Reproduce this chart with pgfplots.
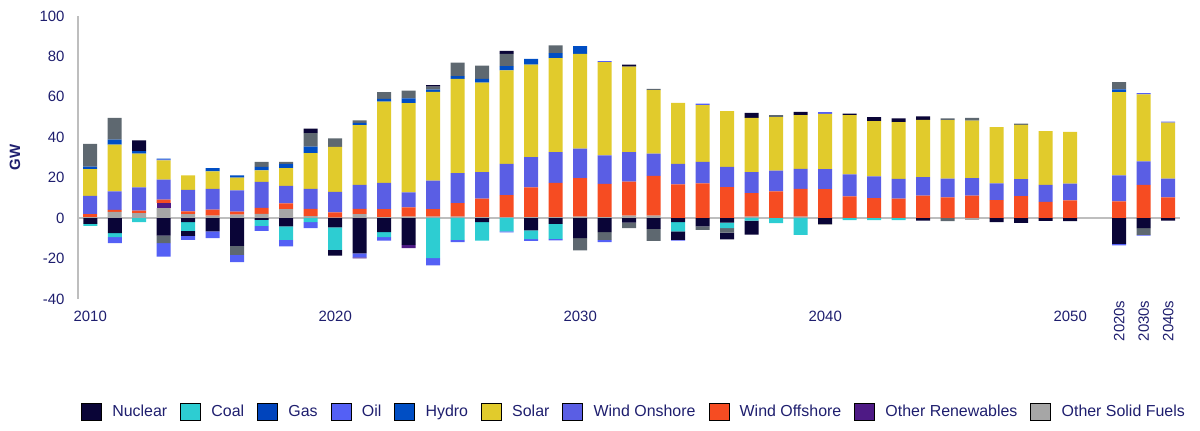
\documentclass[border=0pt]{standalone}
\usepackage{fontspec}
\setmainfont{Liberation Sans}
\usepackage{graphicx}
\usepackage{pgfplots}
\usepackage{pgfplotstable}
\pgfplotsset{compat=1.18}

\definecolor{cNuc}{RGB}{10,5,55}
\definecolor{cCoal}{RGB}{45,205,210}
\definecolor{cGas}{RGB}{0,68,188}
\definecolor{cOil}{RGB}{84,96,245}
\definecolor{cHydro}{RGB}{0,78,196}
\definecolor{cSolar}{RGB}{225,203,44}
\definecolor{cWOn}{RGB}{90,94,228}
\definecolor{cWOff}{RGB}{246,76,34}
\definecolor{cORen}{RGB}{78,26,133}
\definecolor{cOSF}{RGB}{166,166,166}
\definecolor{cDkG}{RGB}{94,104,112}
\definecolor{cTxt}{RGB}{30,30,110}
\definecolor{cAxis}{RGB}{190,190,190}

\pgfplotstableread{
x osf oren woff won solar oil hydro dkg nuc
0 0.5 0 1.5 9.0 13.2 0 1.3 11.3 0
1 3.1 0 1.0 9.1 23.2 0 2.4 10.8 0
2 2.5 0 1.2 11.5 16.7 0 1.2 0 5.4
3 5.0 2.5 1.6 9.9 9.6 0.4 0.4 0 0
4 2.0 0 1.3 10.7 7.2 0 0 0 0
5 1.2 0 3.0 10.3 8.6 0 1.7 0 0
6 1.7 0 1.5 10.5 6.3 0 1.2 0 0
7 2.1 0 3.0 12.8 5.7 0 1.7 2.5 0
8 4.5 0 2.8 8.7 8.8 0 2.1 0.9 0
9 1.0 0 3.6 9.9 17.7 0 3.2 6.6 2.3
10 0.3 0 2.5 10.2 22.3 0 0 4.2 0
11 2.0 0 2.6 11.9 29.5 0 1.1 1.3 0
12 0.5 0 4.0 13.0 40.2 0 1.3 3.3 0
13 0.8 0 4.5 7.4 44.2 0 2.4 3.8 0
14 0.8 0 3.6 14.1 44.0 0 1.1 1.4 0.8
15 0.8 0 6.6 14.9 46.6 0 1.3 6.7 0
16 0.5 0 9.1 13.2 44.3 0 1.8 6.6 0
17 0.5 0 10.9 15.5 46.2 0 2.1 6.1 1.5
18 0.5 0 14.7 15.0 45.8 0 2.8 0 0
19 0.5 0 17.0 15.1 46.6 0 2.4 3.9 0
20 0.8 0 19.0 14.6 46.9 0 3.8 0 0
21 0.5 0 16.5 14.1 46.1 0.5 0 0 0
22 1.2 0 16.9 14.5 42.3 0 0 0 1.1
23 1.2 0 19.7 11.0 31.4 0 0 0.7 0
24 0 0 16.7 10.2 30.1 0 0 0 0
25 0 0 17.2 10.6 28.1 0.8 0 0 0
26 0 0 15.4 9.9 27.6 0 0 0 0
27 0.8 0 11.6 10.4 26.8 0 0 0 2.5
28 0 0 13.2 10.3 26.5 0 0 1.0 0
29 0.8 0 13.7 9.9 26.5 0 0 0 1.7
30 0 0 14.4 9.9 27.3 0.8 0 0 0
31 0 0 10.8 10.8 29.3 0 0 0 0.8
32 0 0 9.9 10.8 27.3 0 0 0 2.0
33 0 0 9.6 9.8 28.1 0 0 0 1.8
34 0 0 11.2 9.1 28.3 0 0 0 1.7
35 0 0 10.3 9.3 28.9 0 0 0.8 0
36 0 0 11.2 8.6 28.5 0 0 1.3 0
37 0 0 8.9 8.3 27.8 0 0 0 0
38 0 0 10.9 8.4 26.8 0 0 0.7 0
39 0 0 8.1 8.3 26.6 0 0 0 0
40 0 0 8.8 8.3 25.6 0 0 0 0
42 0 0 8.3 12.9 41.2 0 1.3 3.6 0
43 0 0 16.5 11.6 33.1 0.6 0 0 0
44 0 0 10.3 9.3 27.6 0.5 0 0 0
}\postab

\pgfplotstableread{
x n1 coal dkg n2 osf oil pur
0 -2.8 -1.0 0 0 0 0 0
1 -7.4 -2.0 0 0 0 -3.0 0
2 0 -2.0 0 0 0 0 0
3 -8.6 0 -3.8 0 0 -6.6 0
4 -2.0 -4.3 0 -2.5 0 -2.0 0
5 -6.6 0 0 0 0 -3.3 0
6 -13.7 0 -4.5 0 0 -3.6 0
7 -0.8 -3.0 0 0 0 -2.5 0
8 -4.1 -6.6 0 0 0 -3.3 0
9 0 -2.0 0 0 0 -3.0 0
10 -4.6 -11.1 0 -2.8 0 0 0
11 -17.4 0 0 0 0 -2.0 -0.5
12 -6.9 -2.5 0 0 0 -1.7 0
13 -13.2 0 0 0 0 0 -1.6
14 0 -19.8 0 0 0 -3.6 0
15 0 -10.7 0 0 0 -1.2 0
16 -2.0 -9.1 0 0 0 0 0
17 0 -6.6 0 0 0 -0.5 0
18 -6.1 -4.3 0 0 0 -0.8 0
19 -2.8 -7.4 0 0 0 -0.8 0
20 -9.9 0 -6.1 0 0 0 0
21 -6.9 0 -3.8 0 0 -1.2 0
22 -2.2 0 -2.8 0 0 0 0
23 -5.3 0 -6.0 0 0 0 0
24 -2.0 -4.6 0 -4.1 0 -0.4 0
25 -4.1 0 -1.7 0 0 0 0
26 -2.2 -2.8 -2.2 -3.3 0 0 0
27 0 -1.2 0 -7.0 0 0 0
28 0 -2.5 0 0 0 0 0
29 0 -8.3 0 0 0 0 0
30 -2.8 0 0 0 -0.5 0 0
31 0 -1.0 0 0 0 0 0
32 0 -1.0 0 0 0 0 0
33 0 -1.0 0 0 0 0 0
34 -1.2 0 0 0 0 0 0
35 0 0 -1.5 0 0 0 0
36 0 0 0 0 -0.8 0 0
37 -2.0 0 0 0 0 0 0
38 -2.3 0 0 0 0 0 0
39 -1.3 0 0 0 0 0 0
40 -1.5 0 0 0 0 0 0
42 -12.7 0 0 0 0 -0.8 0
43 -5.0 0 -3.3 0 0 -0.3 0
44 -1.2 0 0 0 0 0 0
}\negtab

\pgfplotsset{common/.style={
  scale only axis, width=1102.5bp, height=283bp,
  at={(78bp,132bp)}, anchor=south west,
  xmin=-0.5, xmax=44.5, ymin=-40, ymax=100,
  ybar stacked, bar width=14bp,
}}

\begin{document}
\begin{tikzpicture}
\path[use as bounding box] (0,0) rectangle (1200bp,431bp);
\begin{axis}[common,
  axis lines*=left, axis line style={-},
  x axis line style={draw=none},
  y axis line style={draw=cAxis, line width=1.3bp},
  ytick={-40,-20,0,20,40,60,80,100},
  xtick={0,10,20,30,40}, xticklabels={2010,2020,2030,2040,2050},
  extra x ticks={42,43,44}, extra x tick labels={2020s,2030s,2040s},
  extra x tick style={xticklabel style={rotate=90, anchor=east}, xticklabel shift=-2bp},
  extra y ticks={0}, extra y tick labels={},
  extra y tick style={grid=major, major grid style={draw=cAxis, line width=1.3bp}},
  major tick length=0pt,
  tick label style={font=\fontsize{15}{17}\selectfont, text=cTxt},
  /pgf/number format/assume math mode=true,
  xticklabel shift=9bp, yticklabel shift=10bp,
  ylabel={GW},
  ylabel style={font=\fontsize{15}{17}\selectfont\bfseries, text=cTxt, at={(axis description cs:-0.0571,0.5)}, anchor=center},
  legend columns=10,
  legend style={at={(axis description cs:0.0027,-0.3975)}, anchor=west, draw=none, fill=none, inner sep=0pt,
    font=\fontsize{16}{18}\selectfont, text=cTxt,
    /tikz/every even column/.append style={column sep=11bp}},
  legend image code/.code={\fill[#1] (0bp,-8.5bp) rectangle (20bp,8.5bp); \path[draw=none,fill=none] (0bp,0bp) -- (29bp,0bp);},
]
\addplot[forget plot, fill=cOSF, draw=none] table[x=x,y=osf]{\postab};
\addplot[forget plot, fill=cORen, draw=none] table[x=x,y=oren]{\postab};
\addplot[forget plot, fill=cWOff, draw=none] table[x=x,y=woff]{\postab};
\addplot[forget plot, fill=cWOn, draw=none] table[x=x,y=won]{\postab};
\addplot[forget plot, fill=cSolar, draw=none] table[x=x,y=solar]{\postab};
\addplot[forget plot, fill=cOil, draw=none] table[x=x,y=oil]{\postab};
\addplot[forget plot, fill=cHydro, draw=none] table[x=x,y=hydro]{\postab};
\addplot[forget plot, fill=cDkG, draw=none] table[x=x,y=dkg]{\postab};
\addplot[forget plot, fill=cNuc, draw=none] table[x=x,y=nuc]{\postab};
\addlegendimage{fill=cNuc}
\addlegendimage{fill=cCoal}
\addlegendimage{fill=cGas}
\addlegendimage{fill=cOil}
\addlegendimage{fill=cHydro}
\addlegendimage{fill=cSolar}
\addlegendimage{fill=cWOn}
\addlegendimage{fill=cWOff}
\addlegendimage{fill=cORen}
\addlegendimage{fill=cOSF}
\legend{Nuclear, Coal, Gas, Oil, Hydro, Solar, Wind Onshore, Wind Offshore, Other Renewables, Other Solid Fuels}
\end{axis}
\begin{axis}[common, hide axis]
\addplot[fill=cNuc, draw=none] table[x=x,y=n1]{\negtab};
\addplot[fill=cCoal, draw=none] table[x=x,y=coal]{\negtab};
\addplot[fill=cDkG, draw=none] table[x=x,y=dkg]{\negtab};
\addplot[fill=cNuc, draw=none] table[x=x,y=n2]{\negtab};
\addplot[fill=cOSF, draw=none] table[x=x,y=osf]{\negtab};
\addplot[fill=cOil, draw=none] table[x=x,y=oil]{\negtab};
\addplot[fill=cORen, draw=none] table[x=x,y=pur]{\negtab};
\end{axis}
\end{tikzpicture}
\end{document}
